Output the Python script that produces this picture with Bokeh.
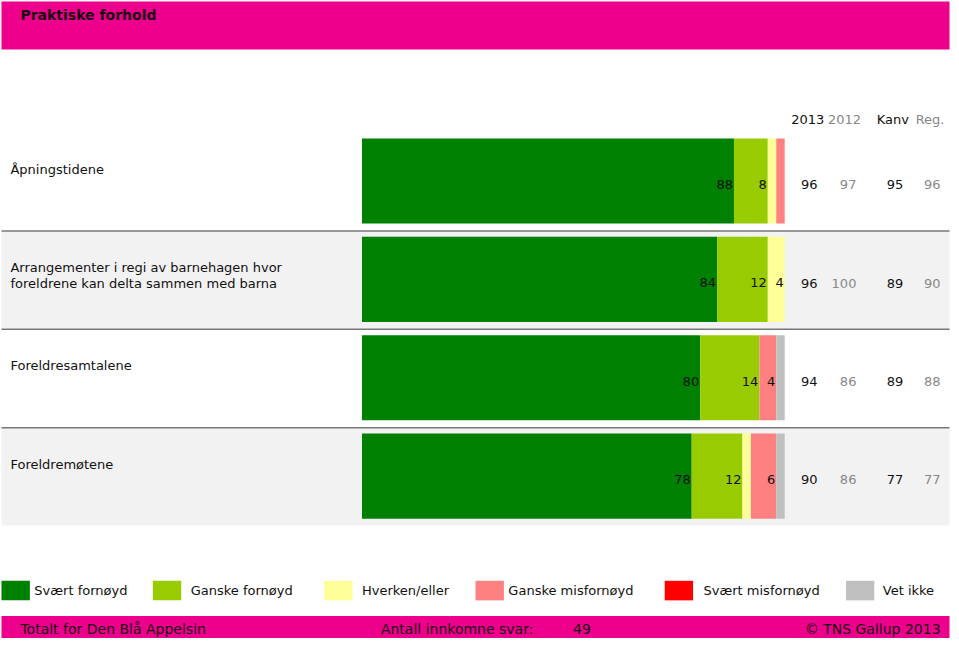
from bokeh.plotting import figure
from bokeh.models import Range1d
from bokeh.core.properties import value
from bokeh.embed import file_html
from bokeh.resources import INLINE

# ---------------- data ----------------
title = "Praktiske forhold"
questions = [
    "Åpningstidene",
    "Arrangementer i regi av barnehagen hvor\nforeldrene kan delta sammen med barna",
    "Foreldresamtalene",
    "Foreldremøtene",
]
categories = ["Svært fornøyd", "Ganske fornøyd", "Hverken/eller",
              "Ganske misfornøyd", "Svært misfornøyd", "Vet ikke"]
colors = ["#008000", "#99cc00", "#ffff99", "#ff8080", "#ff0000", "#c0c0c0"]

svaert_fornoyd = [88, 84, 80, 78]
ganske_fornoyd = [8, 12, 14, 12]
hverken_eller = [2, 4, 0, 2]
ganske_misfornoyd = [2, 0, 4, 6]
svaert_misfornoyd = [0, 0, 0, 0]
vet_ikke = [0, 0, 2, 2]
series = [svaert_fornoyd, ganske_fornoyd, hverken_eller,
          ganske_misfornoyd, svaert_misfornoyd, vet_ikke]

col_headers = ["2013", "2012", "Kanv", "Reg."]
col_2013 = [96, 96, 94, 90]
col_2012 = [97, 100, 86, 86]
col_kanv = [95, 89, 89, 77]
col_reg = [96, 90, 88, 77]
columns = [col_2013, col_2012, col_kanv, col_reg]

footer_left = "Totalt for Den Blå Appelsin"
footer_mid = "Antall innkomne svar:"
n_answers = 49
footer_right = "© TNS Gallup 2013"

# ---------------- layout helpers ----------------
X0 = 365.0      # pixel of 0 %
PPP = 4.245     # pixels per percent


def px(x):
    return (x - X0) / PPP


FONT = value("DejaVu Sans")
W, H = 951, 639
p = figure(width=W, height=H, x_range=Range1d(px(2), px(957)), y_range=Range1d(655, 2),
           output_backend="svg", toolbar_location=None, min_border=0)
p.axis.visible = False
p.grid.visible = False
p.outline_line_color = None
p.background_fill_color = "white"
p.border_fill_color = "white"

MAG = "#ec008c"
# header
p.quad(left=px(3), right=px(955), top=3, bottom=52, fill_color=MAG, line_color=None)
p.text(x=[px(22)], y=[16.5], text=[title], text_font=FONT, text_font_size="14px",
       text_font_style="bold", text_color="#1a0a12", text_baseline="middle", text_align="left")

# column headers
hdr_x = [796, 833, 882, 921]
hdr_col = ["#111111", "#888888", "#111111", "#888888"]
p.text(x=[px(v) for v in hdr_x], y=[124] * 4, text=col_headers, text_font=FONT,
       text_font_size="13px", text_color=hdr_col, text_baseline="middle", text_align="left")

n = len(questions)
centers = [186.5 + 100.5 * i for i in range(n)]

# row backgrounds and separators
for i in range(n):
    c = centers[i]
    if i % 2 == 1:
        p.quad(left=px(3), right=px(955), top=c - 49, bottom=c + 50.5,
               fill_color="#f2f2f2", line_color=None)
for i in range(n - 1):
    yy = centers[i] + 51
    p.line(x=[px(3), px(955)], y=[yy, yy], line_color="#777777", line_width=1.5)

# stacked bars
lefts = [0.0] * n
for k, s in enumerate(series):
    rights = [lefts[i] + s[i] for i in range(n)]
    p.hbar(y=centers, left=lefts, right=rights, height=87,
           fill_color=colors[k], line_color=None)
    lab_x, lab_y, lab_t = [], [], []
    for i in range(n):
        if s[i] >= 4:
            lab_x.append(rights[i])
            lab_y.append(centers[i] + 3.5)
            lab_t.append(str(s[i]))
    if lab_t:
        p.text(x=lab_x, y=lab_y, text=lab_t, x_offset=-1, text_font=FONT,
               text_font_size="13px", text_color="#111111", text_baseline="middle",
               text_align="right")
    lefts = rights

# question labels
for i, q in enumerate(questions):
    lines = q.split("\n")
    p.text(x=[px(12)] * len(lines), y=[centers[i] - 12 + 16 * k for k in range(len(lines))],
           text=lines, text_font=FONT, text_font_size="13px", text_color="#111111",
           text_baseline="middle", text_align="left")

# value columns
val_x = [822.5, 861.5, 908.5, 946]
val_col = ["#111111", "#888888", "#111111", "#888888"]
for j, col in enumerate(columns):
    p.text(x=[px(val_x[j])] * n, y=[c + 4 for c in centers], text=[str(v) for v in col],
           text_font=FONT, text_font_size="13px", text_color=val_col[j],
           text_baseline="middle", text_align="right")

# legend
box_x = [3, 155, 327, 479, 669, 851]
txt_x = [36, 193, 365, 512, 708, 888]
p.quad(left=[px(b) for b in box_x], right=[px(b + 28.5) for b in box_x],
       top=[595] * 6, bottom=[615] * 6, fill_color=colors, line_color=None)
p.text(x=[px(t) for t in txt_x], y=[605] * 6, text=categories, text_font=FONT,
       text_font_size="13px", text_color="#111111", text_baseline="middle", text_align="left")

# footer
p.quad(left=px(3), right=px(955), top=631, bottom=653.5, fill_color=MAG, line_color=None)
p.text(x=[px(22), px(384), px(577)], y=[644] * 3,
       text=[footer_left, footer_mid, str(n_answers)], text_font=FONT,
       text_font_size="14px", text_color="#1a0a12", text_baseline="middle", text_align="left")
p.text(x=[px(946)], y=[644], text=[footer_right], text_font=FONT, text_font_size="14px",
       text_color="#1a0a12", text_baseline="middle", text_align="right")

open("out.html", "w").write(file_html(p, INLINE))
